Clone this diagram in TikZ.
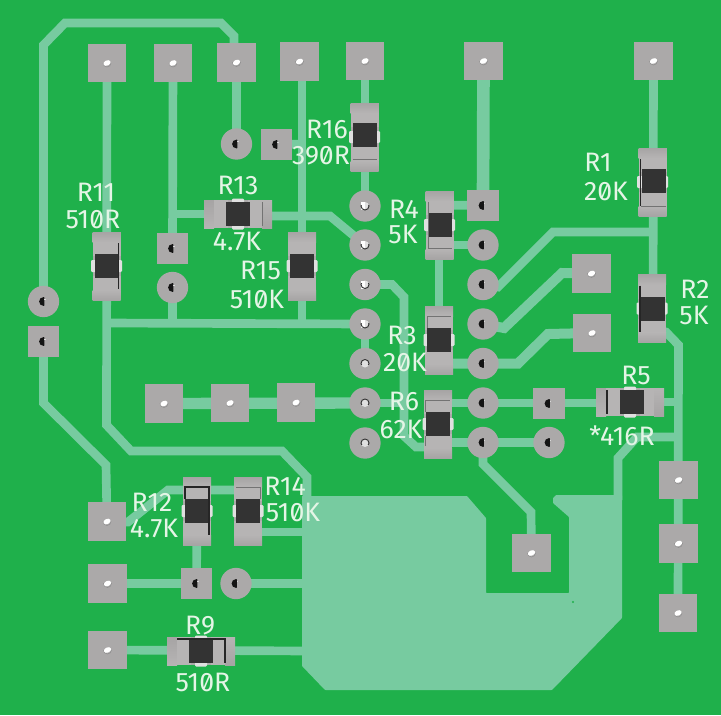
\documentclass[tikz,border=0pt]{standalone}
\usepackage{fontspec}
\setmainfont{Fira Sans}[RawFeature=+zero]
\definecolor{board}{HTML}{1FB04B}
\definecolor{copper}{HTML}{77CBA0}
\definecolor{padg}{HTML}{ABA9A9}
\definecolor{capl}{HTML}{B6B4B4}
\definecolor{capd}{HTML}{A6A4A4}
\definecolor{body}{HTML}{333333}
\definecolor{silk}{HTML}{E4F5E6}
\tikzset{
  x=0.75pt,y=-0.75pt,
  trace/.style={draw=copper,line width=6.5pt,line join=miter},
  mid/.style={draw=copper,line width=7.5pt,line join=miter},
  wide/.style={draw=copper,line width=8.5pt},
  fat/.style={draw=copper,line width=9.5pt},
  lpad/.style={rectangle,fill=padg,inner sep=0pt,minimum size=29pt},
  spad/.style={rectangle,fill=padg,inner sep=0pt,minimum size=23.5pt},
  rpad/.style={circle,fill=padg,inner sep=0pt,minimum size=23.5pt},
  resbody/.style={rectangle,fill=padg,inner sep=0pt,minimum width=21pt,minimum height=51pt},
  blk/.style={draw=black!85,line width=0.8pt},
  gry/.style={draw=black!55,line width=0.5pt},
  lab/.style={text=silk,font=\fontsize{20pt}{21pt}\selectfont,inner sep=0pt},
}
% white drill hole of a large pad
\newcommand{\hw}[1]{\begin{scope}[shift={(#1)}]
  \begin{scope}\clip (-6,0) rectangle (6,7); \draw[black!45,line width=0.35pt] (0,0) circle (3pt);\end{scope}
  \fill[white,rotate=25] (0,0) ellipse (3.8 and 2.6);
  \end{scope}}
% black half-moon hole of a small pad or via
\newcommand{\hk}[1]{\begin{scope}[shift={(#1)}]
  \begin{scope}\clip (-7,-7) rectangle (0.8,7); \fill[black!92] (0,0) circle (3.3pt);\end{scope}
  \fill[white!85!black] (0.8,-3) rectangle (2.2,-2);
  \end{scope}}
% open hole of the left via column, dark ring on the lower side
\newcommand{\hu}[1]{\begin{scope}[shift={(#1)}]
  \fill[white!88!black] (0,0) circle (3pt);
  \fill[white] (-3.6,-4) rectangle (0,4);
  \begin{scope}\clip (-6,-1) rectangle (6,6); \draw[black!80,line width=0.7pt] (0,0) circle (3pt);\end{scope}
  \fill[padg] (1,-6) rectangle (6,-4);
  \end{scope}}
% the same, dark ring on the upper side
\newcommand{\hn}[1]{\begin{scope}[shift={(#1)}]
  \fill[white!88!black] (0,0) circle (3pt);
  \begin{scope}\clip (-6,1) rectangle (6,-6); \draw[black!80,line width=0.7pt] (0,0) circle (3pt);\end{scope}
  \end{scope}}
% resistor: name, x, y, rotation, dark body offset across and along, extra marks
\newcommand{\res}[7]{%
  \node[resbody,rotate=#4] (#1) at (#2,#3) {};
  \begin{scope}[shift={(#2,#3)},rotate=#4]
    \shade[top color=capd,bottom color=capl] (-14,-34) rectangle (14,-24);
    \fill[capl] (-14,-24) rectangle (14,-10);
    \fill[capl] (-14,10) rectangle (14,24);
    \shade[top color=capl,bottom color=capd] (-14,24) rectangle (14,34);
    \fill[white!88!black,rounded corners=0.8pt] (-15.5,-6) rectangle (15.5,6);
    \fill[body] (#5-12,#6-12) rectangle (#5+12,#6+12);
    #7
  \end{scope}}
\begin{document}
\begin{tikzpicture}
\useasboundingbox (0,0) rectangle (721,715);
\fill[board] (0,0) rectangle (721,715);
% ---- pad positions
\coordinate (a1) at (107,63); \coordinate (a2) at (173,63); \coordinate (a3) at (236.5,62.5);
\coordinate (a4) at (299.5,61.5); \coordinate (a5) at (365,61); \coordinate (a6) at (483.5,61);
\coordinate (a7) at (653.5,61);
\coordinate (b1) at (164,403.5); \coordinate (b2) at (230,403); \coordinate (b3) at (296,402.5);
\coordinate (c1) at (107,521.5); \coordinate (c2) at (107.5,583.5); \coordinate (c3) at (107.5,650);
\coordinate (d1) at (531.5,553); \coordinate (d2) at (591.5,273.5); \coordinate (d3) at (592,333);
\coordinate (e1) at (678.5,480); \coordinate (e2) at (678.5,543.5); \coordinate (e3) at (678,613);
\coordinate (f1) at (276.5,144.5); \coordinate (f2) at (172.5,248.5); \coordinate (f3) at (43.5,341.5);
\coordinate (f4) at (483,205.5); \coordinate (f5) at (549,403.5); \coordinate (f6) at (196.5,583.5);
\coordinate (g1) at (236.5,144); \coordinate (g2) at (172.5,287.5); \coordinate (g3) at (43.5,301.5);
\coordinate (g4) at (549,442.5); \coordinate (g5) at (236,583.5);
\coordinate (l1) at (365,206); \coordinate (l2) at (365,245); \coordinate (l3) at (365,284.5);
\coordinate (l4) at (365,324); \coordinate (l5) at (365,363.5); \coordinate (l6) at (365,403); \coordinate (l7) at (365,443);
\coordinate (m2) at (483,245); \coordinate (m3) at (483,284.5); \coordinate (m4) at (483,324);
\coordinate (m5) at (483,363.5); \coordinate (m6) at (483,403); \coordinate (m7) at (483,442.5);
% ---- copper pour
\fill[copper,rounded corners=0.5pt] (302,496) -- (467,496) -- (486,518) -- (486,593) -- (569,593) -- (569,517)
  -- (553,503) -- (553,498) -- (556,495) -- (622,495) -- (622,618) -- (552,690) -- (325,690) -- (302,666) -- cycle;
\fill[board] (573,602) circle (1.2);
% ---- traces
\draw[trace] (g3) -- (43.5,45) -- (65,23) -- (221,23) -- (234,36) -- (234,50);
\draw[trace] (a1) -- (106.5,425) -- (131,451) -- (282,451) -- (307,477) -- (307,510);
\draw[trace] (a2) -- (f2);
\draw[trace] (g2) -- (172.5,323);
\draw[trace] (107,323) -- (l4);
\draw[trace] (173,214) -- (210,214);
\draw[trace] (262,216) -- (330,216) -- (l2);
\draw[trace] (a3) -- (g1);
\draw[trace] (302,61.5) -- (302,323);
\draw[trace] (f1) -- (302,144);
\draw[trace] (a5) -- (l1);
\draw[fat] (a6) -- (f4);
\draw[trace] (f4) -- (440,205);
\draw[trace] (m2) -- (440,245);
\draw[trace] (439,250) -- (439,320);
\draw[trace] (a7) -- (653,330);
\draw[trace] (653,232) -- (553,232) -- (498,287) -- (m3);
\draw[mid] (d2) -- (562,273) -- (504,328) -- (m4);
\draw[mid] (d3) -- (548,334) -- (518,363.5) -- (440,363.5);
\draw[trace] (l3) -- (392,284.5) -- (404,297) -- (404,436) -- (416,447) -- (430,447);
\draw[trace] (l6) -- (404,403);
\draw[trace] (l4) -- (l5);
\draw[wide] (b1) -- (l6);
\draw[trace] (440,403) -- (610,403);
\draw[trace] (440,442.5) -- (g4);
\draw[trace] (m7) -- (483,464) -- (531,512) -- (d1);
\draw[trace] (f3) -- (43.5,403) -- (106,465) -- (c1);
\draw[trace] (c1) -- (128,522) -- (168,490) -- (245,490);
\draw[trace] (250,532) -- (310,532);
\draw[trace] (c2) -- (f6);
\draw[trace] (197,511) -- (f6);
\draw[trace] (g5) -- (310,583.5);
\draw[trace] (c3) -- (310,651);
\draw[trace] (650,402) -- (678.5,402);
\draw[trace] (655,330) -- (666,332) -- (678.5,345) -- (e3);
\draw[trace] (678,437) -- (637,437) -- (618,458) -- (618,500);
% ---- resistors
\res{R11}{106.5}{266}{0}{0}{0}{\draw[blk] (12,-23) -- (12,23);}
\res{R15}{302}{266}{0}{0}{0}{}
\res{R16}{364.5}{137}{0}{0}{-2}{\draw[gry] (-12,22) -- (12,22);}
\res{R1}{652.5}{182}{0}{1}{-1}{\draw[blk] (-12,-23) -- (-12,24); \draw[gry] (-12,24) -- (13,24);}
\res{R2}{652}{308.5}{0}{1}{0}{\draw[blk] (-12,-23) -- (-12,23);}
\res{R4}{439.5}{225}{0}{0}{0}{\draw[gry] (-11,-23) -- (-11,23) -- (12,23);}
\res{R3}{439}{340}{0}{0}{0}{\draw[gry] (-12,-12) -- (-12,-24) -- (12,-24);}
\res{R6}{438}{424}{0}{0}{0}{\draw[gry] (-13,-12) -- (-13,-24) -- (12,-24); \draw[gry] (-13,12) -- (-13,22);}
\res{R12}{197}{511}{0}{0}{0}{\draw[blk] (-12,-12) -- (-12,-24) -- (12,-24) -- (12,24);}
\res{R14}{248}{511}{0}{0}{0}{\draw[gry] (-12,-24) -- (12,-24) -- (12,-12);}
\res{R13}{238}{214}{90}{0}{0}{\draw[gry] (-12,24) -- (12,24);}
\res{R5}{630}{402}{90}{0}{2}{\draw[blk] (-12,-23) -- (12,-23);}
\res{R9}{201}{651}{90}{0}{0}{\draw[blk] (12,-24) -- (12,24) -- (-12,24);}
% ---- large square pads
\node[lpad] (A1) at (a1) {}; \node[lpad] (A2) at (a2) {}; \node[lpad] (A3) at (a3) {};
\node[lpad] (A4) at (a4) {}; \node[lpad] (A5) at (a5) {}; \node[lpad] (A6) at (a6) {};
\node[lpad] (A7) at (a7) {}; \node[lpad] (B1) at (b1) {}; \node[lpad] (B2) at (b2) {};
\node[lpad] (B3) at (b3) {}; \node[lpad] (C1) at (c1) {}; \node[lpad] (C2) at (c2) {};
\node[lpad] (C3) at (c3) {}; \node[lpad] (D1) at (d1) {}; \node[lpad] (D2) at (d2) {};
\node[lpad] (D3) at (d3) {}; \node[lpad] (E1) at (e1) {}; \node[lpad] (E2) at (e2) {};
\node[lpad] (E3) at (e3) {};
% ---- small square pads
\node[spad] (F1) at (f1) {}; \node[spad] (F2) at (f2) {}; \node[spad] (F3) at (f3) {};
\node[spad] (F4) at (f4) {}; \node[spad] (F5) at (f5) {}; \node[spad] (F6) at (f6) {};
% ---- round pads
\node[rpad] (G1) at (g1) {}; \node[rpad] (G2) at (g2) {}; \node[rpad] (G3) at (g3) {};
\node[rpad] (G4) at (g4) {}; \node[rpad] (G5) at (g5) {};
\node[rpad] (L1) at (l1) {}; \node[rpad] (L2) at (l2) {}; \node[rpad] (L3) at (l3) {};
\node[rpad] (L4) at (l4) {}; \node[rpad] (L5) at (l5) {}; \node[rpad] (L6) at (l6) {};
\node[rpad] (L7) at (l7) {}; \node[rpad] (M2) at (m2) {}; \node[rpad] (M3) at (m3) {};
\node[rpad] (M4) at (m4) {}; \node[rpad] (M5) at (m5) {}; \node[rpad] (M6) at (m6) {};
\node[rpad] (M7) at (m7) {};
% ---- holes
\hw{a1}\hw{a2}\hw{a3}\hw{a4}\hw{a5}\hw{a6}\hw{a7}\hw{b1}\hw{b2}\hw{b3}
\hw{c1}\hw{c2}\hw{c3}\hw{d1}\hw{d2}\hw{d3}\hw{e1}\hw{e2}\hw{e3}
\hk{f1}\hk{f2}\hk{f3}\hk{f4}\hk{f5}\hk{f6}\hk{g1}\hk{g2}\hk{g3}\hk{g4}\hk{g5}
\hk{m2}\hk{m3}\hk{m4}\hk{m5}\hk{m6}\hk{m7}
\hu{l1}\hu{l2}\hu{l3}\hu{l4}\hn{l5}\hn{l6}\hn{l7}
% ---- labels
\node[lab] (tR11) at (96,192) {R11};   \node[lab] (vR11) at (93,219) {510R};
\node[lab] (tR13) at (238,185) {R13};  \node[lab] (vR13) at (237,241) {4.7K};
\node[lab] (tR15) at (260.5,270) {R15};\node[lab] (vR15) at (257,299) {510K};
\node[lab] (tR16) at (327,129) {R16};  \node[lab] (vR16) at (321,156) {390R};
\node[lab] (tR4) at (404,209) {R4};    \node[lab] (vR4) at (403,234) {5K};
\node[lab] (tR1) at (598,162) {R1};    \node[lab] (vR1) at (606,191) {20K};
\node[lab] (tR2) at (695,289) {R2};    \node[lab] (vR2) at (694,315) {5K};
\node[lab] (tR3) at (402,335) {R3};    \node[lab] (vR3) at (405,362) {20K};
\node[lab] (tR6) at (404,401) {R6};    \node[lab] (vR6) at (401,429) {62K};
\node[lab] (tR5) at (636,375) {R5};    \node[lab] (vR5) at (622,436) {*416R};
\node[lab] (tR12) at (152,502) {R12};  \node[lab] (vR12) at (154,528) {4.7K};
\node[lab] (tR14) at (285,486) {R14};  \node[lab] (vR14) at (293,512) {510K};
\node[lab] (tR9) at (200,626) {R9};    \node[lab] (vR9) at (203,682) {510R};
\end{tikzpicture}
\end{document}
